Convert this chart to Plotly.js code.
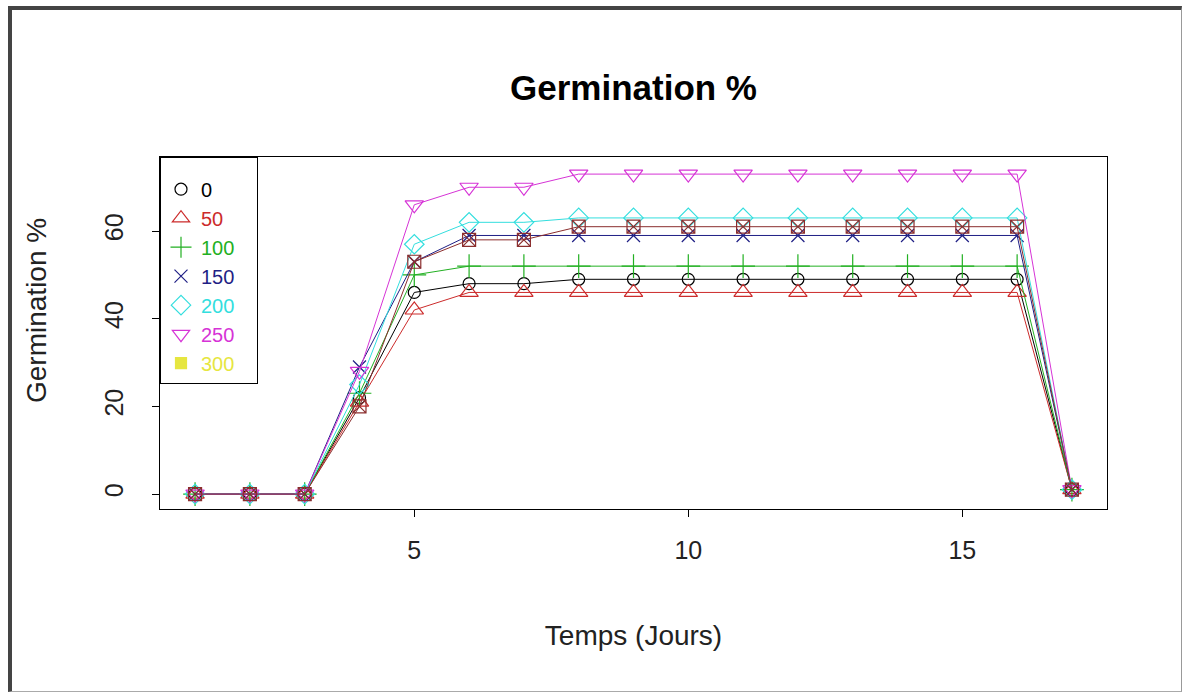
<!DOCTYPE html>
<html>
<head>
<meta charset="utf-8">
<script src="https://cdn.plot.ly/plotly-3.0.1.min.js"></script>
<style>
html,body{margin:0;padding:0;background:#fff;}
#wrap{position:relative;width:1183px;height:693px;}
#chart{position:absolute;left:0;top:0;width:1183px;height:693px;}
#frame{position:absolute;left:8px;top:6px;width:1174px;height:686px;box-sizing:border-box;
  border-left:4px solid #444;border-top:4px solid #444;border-right:1px solid #999;border-bottom:1px solid #aaa;pointer-events:none;}
</style>
</head>
<body>
<div id="wrap"><div id="chart"></div><div id="frame"></div></div>
<script>
// Data
const days = [1,2,3,4,5,6,7,8,9,10,11,12,13,14,15,16,17];
const seriesNames = ['0','50','100','150','200','250','300'];
const g0   = [0,0,0,22,46,48,48,49,49,49,49,49,49,49,49,49,1];
const g50  = [0,0,0,21,42,46,46,46,46,46,46,46,46,46,46,46,1];
const g100 = [0,0,0,23,50,52,52,52,52,52,52,52,52,52,52,52,1];
const g150 = [0,0,0,29,53,59,59,59,59,59,59,59,59,59,59,59,1];
const g200 = [0,0,0,25,57,62,62,63,63,63,63,63,63,63,63,63,1];
const g250 = [0,0,0,28,66,70,70,73,73,73,73,73,73,73,73,73,1];
const g300 = [0,0,0,20,53,58,58,61,61,61,61,61,61,61,61,61,1];
const xTicks = [5,10,15];
const yTicks = [0,20,40,60];

const values = [g0,g50,g100,g150,g200,g250,g300];
const colors = ['#000000','#cc2b2b','#22b022','#1f1f85','#33dede','#d633d6','#8b2e2e'];
const legendColors = ['#000000','#cc2b2b','#22b022','#1f1f85','#33dede','#d633d6','#e6e640'];
const symbols = ['circle-open','triangle-up-open','cross-thin-open','x-thin-open','diamond-open','triangle-down-open','square-x-open'];
const legendSymbols = ['circle-open','triangle-up-open','cross-thin-open','x-thin-open','diamond-open','triangle-down-open','square'];
const sizes = [12,16,17,13,15,16,13];

const traces = [];
values.forEach((v,i)=>{
  traces.push({
    x: days, y: v, type:'scatter', mode:'lines+markers', showlegend:false,
    line:{color:colors[i], width:1},
    marker:{symbol:symbols[i], size:sizes[i], color:colors[i], line:{color:colors[i], width:1.2}},
    hoverinfo:'x+y'
  });
});
seriesNames.forEach((n,i)=>{
  traces.push({
    x:[null], y:[null], type:'scatter', mode:'markers', showlegend:true,
    name:'<span style="color:'+legendColors[i]+'">'+n+'&nbsp;&nbsp;&nbsp;</span>',
    marker:{symbol:legendSymbols[i], size:i===6?11:Math.min(sizes[i],15), color:legendColors[i], line:{color:legendColors[i], width:1.2}}
  });
});

const font = "Liberation Sans, Arial, sans-serif";
const layout = {
  width:1183, height:693,
  margin:{l:160, r:76, t:157, b:184},
  paper_bgcolor:'#fff', plot_bgcolor:'#fff',
  font:{family:font, color:'#000'},
  title:{text:'<b>Germination %</b>', font:{size:35, family:font, color:'#000'},
    x:0.5, xref:'paper', xanchor:'center', y:1-88/693, yref:'container', yanchor:'middle'},
  xaxis:{range:[0.36,17.64], tickvals:xTicks, ticks:'outside', ticklen:7, tickcolor:'#000',
    showline:true, mirror:true, linecolor:'#000', linewidth:1, showgrid:false, zeroline:false,
    tickfont:{size:25, family:font, color:'#222'}, ticklabelstandoff:12,
    title:{text:'Temps (Jours)', font:{size:28, family:font, color:'#222'}, standoff:62}},
  yaxis:{range:[-3.4,76.9], tickvals:yTicks, ticks:'outside', ticklen:7, tickcolor:'#000', tickangle:-90,
    showline:true, mirror:true, linecolor:'#000', linewidth:1, showgrid:false, zeroline:false,
    tickfont:{size:25, family:font, color:'#222'}, ticklabelstandoff:19},
  annotations:[{text:'Germination %', textangle:-90, xref:'paper', yref:'paper',
    x:(36-160)/947, y:(509-311)/352, xanchor:'center', yanchor:'middle', showarrow:false,
    font:{size:28, family:font, color:'#222'}}],
  legend:{x:0, y:1, xref:'paper', yref:'paper', xanchor:'left', yanchor:'top',
    bgcolor:'#fff', bordercolor:'#000', borderwidth:1, font:{size:20, family:font},
    title:{text:' ', font:{size:9}},
    itemwidth:30, traceorder:'normal'},
  showlegend:true
};
Plotly.newPlot('chart', traces, layout, {displayModeBar:false, staticPlot:true});
</script>
</body>
</html>
